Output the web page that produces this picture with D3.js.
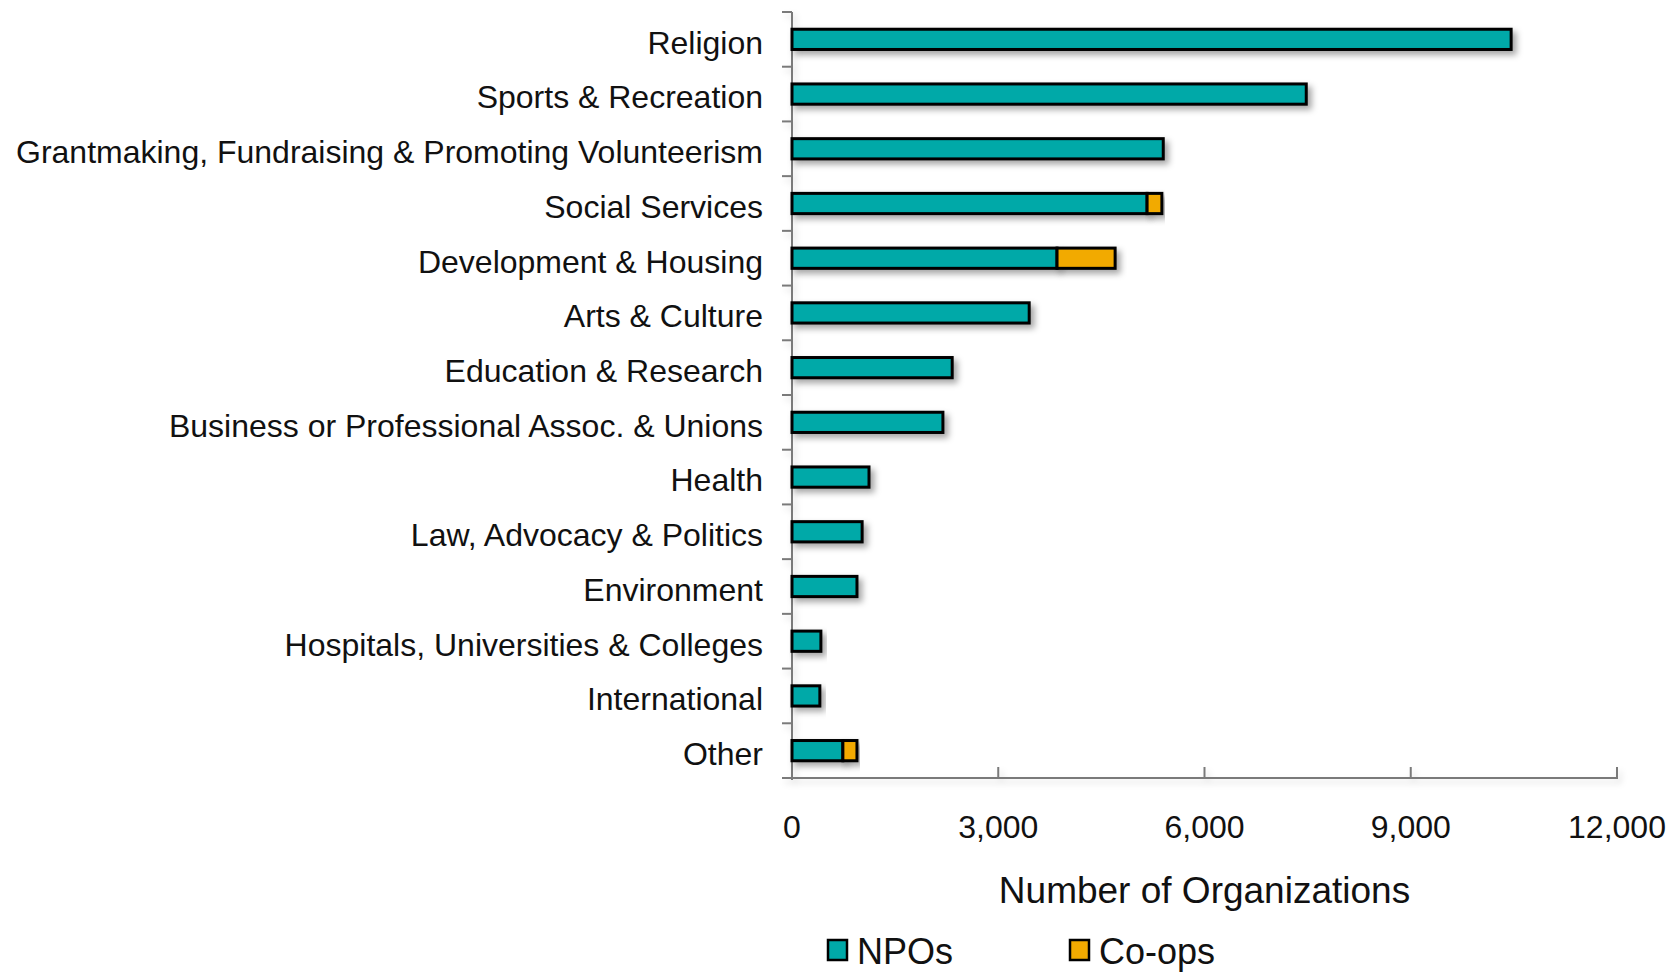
<!DOCTYPE html>
<html><head><meta charset="utf-8">
<script src="https://cdn.jsdelivr.net/npm/d3@7"></script>
<style>
html,body{margin:0;padding:0;background:#fff;}
svg{display:block;font-family:"Liberation Sans",Arial,sans-serif;}
</style></head>
<body><svg id="c" width="1677" height="973"></svg>
<script>
const categories = ["Religion","Sports & Recreation","Grantmaking, Fundraising & Promoting Volunteerism","Social Services","Development & Housing","Arts & Culture","Education & Research","Business or Professional Assoc. & Unions","Health","Law, Advocacy & Politics","Environment","Hospitals, Universities & Colleges","International","Other"];
const npos  = [10460,7480,5400,5165,3855,3450,2330,2195,1120,1020,945,420,405,740];
const coops = [0,0,0,215,845,0,0,0,0,0,0,0,0,205];
const seriesNames = ["NPOs","Co-ops"];
const seriesColors = ["#00A9A8","#F2AA00"];
const xTicks = [0,3000,6000,9000,12000];
const xTitle = "Number of Organizations";

(function(){
const svg = d3.select("#c");
const mLeft = 792, mRight = 1617, mTop = 12, mBottom = 778;

const defs = svg.append("defs");
const sh = defs.append("filter").attr("id","sh").attr("x","-10%").attr("y","-50%").attr("width","130%").attr("height","250%");
sh.append("feDropShadow").attr("dx",4).attr("dy",4).attr("stdDeviation",3).attr("flood-color","#000").attr("flood-opacity",0.35);
const sh2 = defs.append("filter").attr("id","sh2").attr("x","-10%").attr("y","-10%").attr("width","130%").attr("height","130%");
sh2.append("feDropShadow").attr("dx",3).attr("dy",4).attr("stdDeviation",3).attr("flood-color","#000").attr("flood-opacity",0.15);

const x = d3.scaleLinear().domain([0,12000]).range([mLeft,mRight]);
const p = 0.63;
const y = d3.scaleBand().domain(categories).range([mTop,mBottom]).paddingInner(p).paddingOuter(p/2);

const data = categories.map((c,i)=>({cat:c, NPOs:npos[i], "Co-ops":coops[i]}));
const stack = d3.stack().keys(seriesNames)(data);

const axisColor = "#7a7a7a";
const ax = svg.append("g").attr("filter","url(#sh2)");
ax.append("line").attr("x1",mLeft).attr("x2",mLeft).attr("y1",mTop).attr("y2",mBottom+2)
  .attr("stroke",axisColor).attr("stroke-width",2);
const step = y.step();
d3.range(14).forEach(i=>{
  const yy = mTop + i*step;
  ax.append("line").attr("x1",mLeft-10).attr("x2",mLeft).attr("y1",yy).attr("y2",yy)
    .attr("stroke",axisColor).attr("stroke-width",2);
});
ax.append("line").attr("x1",mLeft-10).attr("x2",mRight+1).attr("y1",mBottom).attr("y2",mBottom)
  .attr("stroke",axisColor).attr("stroke-width",2);
xTicks.slice(1).forEach(t=>{
  ax.append("line").attr("x1",x(t)).attr("x2",x(t)).attr("y1",mBottom-11).attr("y2",mBottom)
    .attr("stroke",axisColor).attr("stroke-width",2);
});

const fmt = d3.format(",");
svg.append("g").selectAll("text").data(xTicks).join("text")
  .attr("x",d=>x(d)).attr("y",838).attr("text-anchor","middle")
  .attr("font-size",32).attr("fill","#111").text(d=>fmt(d));

svg.append("text").attr("x",(mLeft+mRight)/2).attr("y",903).attr("text-anchor","middle")
  .attr("font-size",37).attr("fill","#111").text(xTitle);

svg.append("g").selectAll("text").data(categories).join("text")
  .attr("x",763).attr("y",d=>y(d)+y.bandwidth()/2).attr("dy","0.45em")
  .attr("text-anchor","end").attr("font-size",32).attr("fill","#111").text(d=>d);

const bars = svg.append("g");
stack.forEach((s,si)=>{
  bars.append("g").selectAll("rect").data(s.filter(d=>d[1]-d[0]>0)).join("rect")
    .attr("x",d=>x(d[0])).attr("width",d=>x(d[1])-x(d[0]))
    .attr("y",d=>y(d.data.cat)).attr("height",y.bandwidth())
    .attr("fill",seriesColors[si]).attr("stroke","#000").attr("stroke-width",3)
    .attr("filter","url(#sh)");
});

const lg = svg.append("g");
const legX = [828,1070];
seriesNames.forEach((n,i)=>{
  lg.append("rect").attr("x",legX[i]).attr("y",940).attr("width",19).attr("height",20)
    .attr("fill",seriesColors[i]).attr("stroke","#000").attr("stroke-width",2.5);
  lg.append("text").attr("x",legX[i]+29).attr("y",964).attr("font-size",36).attr("fill","#111").text(n);
});
})();
</script></body></html>
